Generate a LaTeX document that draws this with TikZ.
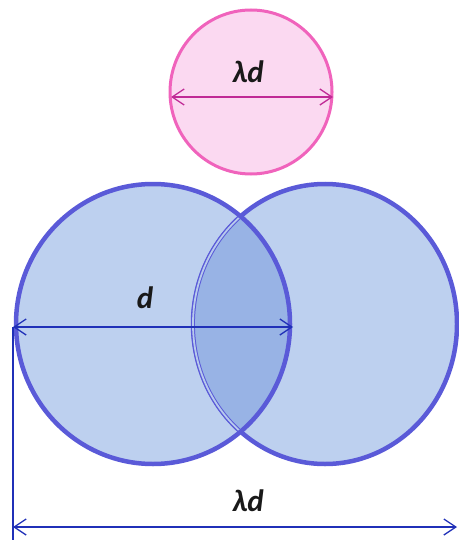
\documentclass[tikz,border=0pt]{standalone}
\usepackage{fontspec}
\setmainfont{Carlito}
\usetikzlibrary{arrows.meta}
\definecolor{dropBlue}{HTML}{BDD0EF}
\definecolor{dropLens}{HTML}{98B3E5}
\definecolor{dropEdge}{HTML}{5A5AD8}
\definecolor{dimBlue}{HTML}{2030B8}
\definecolor{dropPink}{HTML}{FBD9F1}
\definecolor{pinkEdge}{HTML}{F063BC}
\definecolor{dimPink}{HTML}{C02A96}

\begin{document}
\begin{tikzpicture}[x=1pt,y=-1pt,
    dim/.style={{Straight Barb[length=12pt,width=16pt]}-{Straight Barb[length=12pt,width=16pt]},
                line width=1.3pt},
    lbl/.style={font=\fontsize{31}{36}\selectfont\bfseries\itshape, text=black!90},
    leftdrop/.style={x radius=137pt, y radius=140pt},
    rightdrop/.style={x radius=132pt, y radius=140pt}]
  \useasboundingbox (0,0) rectangle (458,540);
  \coordinate (pc) at (251,92);
  \coordinate (lc) at (153,324);
  \coordinate (rc) at (325,324);
  % small drop
  \filldraw[fill=dropPink, draw=pinkEdge, line width=3pt] (pc) ellipse [x radius=81pt, y radius=82pt];
  % two big drops
  \fill[dropBlue] (lc) ellipse [leftdrop];
  \fill[dropBlue] (rc) ellipse [rightdrop];
  \draw[dropEdge, line width=4.5pt] (rc) ellipse [rightdrop];
  \begin{scope}
    \clip (lc) ellipse [leftdrop];
    \fill[dropLens] (rc) ellipse [rightdrop];
    \draw[dropEdge, line width=1pt, double=dropLens!70, double distance=1.8pt] (rc) ellipse [rightdrop];
  \end{scope}
  \draw[dropEdge, line width=4.5pt] (lc) ellipse [leftdrop];
  % dimension lines
  \coordinate (pL) at (171,97);
  \coordinate (pR) at (333,97);
  \coordinate (dL) at (13,327);
  \coordinate (dR) at (293,327);
  \coordinate (bL) at (13,527);
  \coordinate (bR) at (457,527);
  \coordinate (vB) at (13,540);
  \draw[dim, dimPink] (pL) -- (pR);
  \draw[dim, dimBlue] (dL) -- (dR);
  \draw[dimBlue, line width=1.3pt] (dL) -- (vB);
  \draw[dim, dimBlue] (bL) -- (bR);
  % labels
  \node[lbl] (lamTop) at (248,72) {λd};
  \node[lbl] (dLbl) at (145,298) {d};
  \node[lbl] (lamBot) at (248,501) {λd};
\end{tikzpicture}
\end{document}
